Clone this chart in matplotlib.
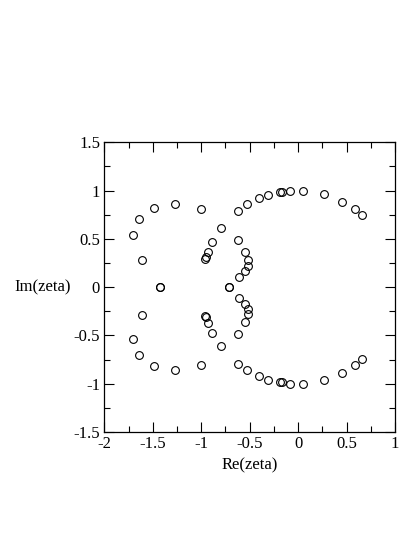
import matplotlib
matplotlib.use("Agg")
import matplotlib.pyplot as plt
from matplotlib.ticker import MultipleLocator

plt.rcParams['font.family'] = ['Liberation Serif', 'DejaVu Serif']

# zeros in the complex plane
re_vals = [
    # left outer arc
    -1.705, -1.643, -1.492, -1.275, -1.000, -1.616,
    -1.705, -1.643, -1.492, -1.275, -1.000, -1.616,
    # inner arc
    -0.800, -0.885, -0.934, -0.955, -0.960,
    -0.800, -0.885, -0.934, -0.955, -0.960,
    # small bulge near -0.55
    -0.615, -0.546, -0.518, -0.516, -0.543, -0.609,
    -0.615, -0.546, -0.518, -0.516, -0.543, -0.609,
    # unit circle
    -0.622, -0.523, -0.403, -0.306, -0.182, -0.162, -0.083, 0.052, 0.271, 0.457, 0.584, 0.660,
    -0.622, -0.523, -0.403, -0.306, -0.182, -0.162, -0.083, 0.052, 0.271, 0.457, 0.584, 0.660,
    # on the real axis
    -1.423, -1.423, -0.710, -0.710,
]
im_vals = [
    0.535, 0.703, 0.817, 0.860, 0.808, 0.285,
    -0.535, -0.703, -0.817, -0.860, -0.808, -0.285,
    0.610, 0.472, 0.367, 0.312, 0.295,
    -0.610, -0.472, -0.367, -0.312, -0.295,
    0.490, 0.364, 0.280, 0.222, 0.170, 0.108,
    -0.490, -0.364, -0.280, -0.222, -0.170, -0.108,
    0.792, 0.857, 0.919, 0.957, 0.986, 0.986, 1.000, 1.000, 0.963, 0.886, 0.805, 0.749,
    -0.792, -0.857, -0.919, -0.957, -0.986, -0.986, -1.000, -1.000, -0.963, -0.886, -0.805, -0.749,
    0.0, 0.0, 0.0, 0.0,
]

fig = plt.figure(figsize=(4.15, 5.37), dpi=100)
ax = fig.add_axes([0.2513, 0.1955, 0.7005, 0.5395])

ax.plot(re_vals, im_vals, 'o', mfc='none', mec='black', ms=5.6, mew=0.8, ls='none')

ax.set_xlim(-2, 1)
ax.set_ylim(-1.5, 1.5)
ax.xaxis.set_major_locator(MultipleLocator(0.5))
ax.xaxis.set_minor_locator(MultipleLocator(0.25))
ax.yaxis.set_major_locator(MultipleLocator(0.5))
ax.yaxis.set_minor_locator(MultipleLocator(0.25))
ax.xaxis.set_major_formatter(plt.FuncFormatter(lambda v, p: f"{v:g}"))
ax.yaxis.set_major_formatter(plt.FuncFormatter(lambda v, p: f"{v:g}"))
ax.tick_params(which='both', direction='in', top=True, right=True, labelsize=12, width=0.8)
ax.tick_params(axis='x', pad=3)
ax.tick_params(axis='y', pad=3)
ax.tick_params(which='major', length=7)
ax.tick_params(which='minor', length=4)
for s in ax.spines.values():
    s.set_linewidth(0.9)

ax.set_xlabel("Re(zeta)", fontsize=12, labelpad=4)
ax.set_ylabel("Im(zeta)", fontsize=12, rotation=0, labelpad=22, va='center')

fig.savefig("out.png", dpi=100)
